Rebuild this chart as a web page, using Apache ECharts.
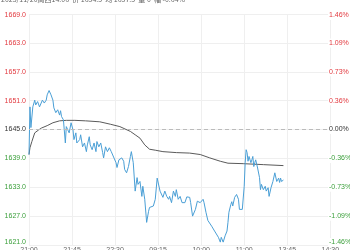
<!DOCTYPE html>
<html><head><meta charset="utf-8">
<script src="https://cdn.jsdelivr.net/npm/echarts@6/dist/echarts.min.js"></script>
<style>html,body{margin:0;padding:0;background:#fff}#c{width:350px;height:250px}</style>
</head><body><div id="c"></div>
<script>
const timeLabels = ['21:00','21:45','22:30','09:15','10:00','11:00','13:45','14:30','15:00'];
const preSettle = 1645;
const yMin = 1621, yMax = 1669, yStep = 6;
const totalMinutes = 345, labelStep = 45;
const headerText = '2025/11/20周四14:06  价 1634.5  均 1637.5  量 0  幅 -0.64%';

const priceMinutes = [0,1,2,4,6,7,9,11,12,14,16,18,19,21,23,25,26,28,30,32,33,34,36,38,39,42,44,46,47,49,50,53,54,56,58,60,61,63,64,66,68,70,71,73,75,77,78,80,82,84,86,88,91,92,94,97,99,100,102,104,106,107,109,111,113,114,116,118,119,121,123,125,126,128,130,132,134,135,137,139,140,142,144,146,147,149,151,153,154,156,158,160,161,163,165,168,169,171,174,176,178,179,182,183,185,187,189,191,193,194,196,198,200,201,203,205,207,208,209,211,212,213,215,217,219,220,221,223,225,226,227,228,229,230,232,233,234,235,236,237,239,240,241,242,243,245,247,248,250,251,253,255,256,257,259,261,262,263,264,266];
const priceValues = [1639.8,1649.7,1645.4,1649.7,1651.1,1650.1,1650.8,1649.7,1650.1,1651.1,1650.5,1651.1,1652.2,1653.1,1652.2,1651.1,1649.5,1648.5,1649.1,1648.0,1648.9,1647.7,1647.0,1642.2,1645.6,1644.3,1646.4,1644.9,1642.9,1644.3,1642.2,1642.9,1643.9,1641.4,1642.2,1640.4,1641.8,1643.5,1641.8,1640.8,1642.2,1640.4,1642.5,1641.4,1642.2,1640.2,1639.1,1641.4,1640.4,1641.2,1640.4,1640.4,1638.1,1637.1,1638.7,1639.1,1638.4,1636.7,1636.0,1637.3,1639.4,1640.4,1638.1,1632.2,1635.0,1633.6,1634.2,1631.1,1633.2,1630.5,1625.7,1628.0,1628.8,1628.4,1629.1,1630.5,1634.9,1634.6,1632.2,1631.9,1630.9,1632.2,1631.1,1630.5,1631.1,1629.8,1632.2,1631.1,1632.5,1630.5,1631.1,1629.8,1629.7,1629.8,1631.0,1630.9,1629.8,1627.0,1628.4,1630.1,1630.5,1629.8,1630.5,1629.8,1627.8,1626.1,1625.9,1624.9,1625.3,1623.9,1624.2,1622.6,1621.6,1622.6,1621.6,1622.9,1623.9,1625.7,1627.8,1629.4,1630.0,1629.1,1630.9,1631.5,1630.5,1628.4,1628.7,1628.4,1633.2,1638.1,1640.8,1640.2,1638.4,1639.4,1638.1,1638.7,1639.4,1637.3,1638.1,1638.7,1637.0,1636.7,1635.0,1632.5,1633.6,1632.5,1633.2,1632.2,1632.9,1631.1,1632.9,1634.2,1633.9,1636.0,1634.2,1634.9,1634.0,1634.9,1634.2,1634.5];

const avgMinutes = [0,1,3,6,10,13,19,25,32,39,48,59,74,85,95,106,111,116,121,126,132,140,154,168,179,189,200,208,224,245,266];
const avgValues = [1639.8,1641.2,1642.5,1644.3,1644.9,1645.3,1645.8,1646.4,1646.8,1646.9,1646.9,1646.8,1646.6,1646.1,1645.6,1644.6,1643.9,1643.2,1641.8,1640.9,1640.7,1640.4,1640.2,1640.1,1639.8,1639.1,1638.4,1638.0,1637.9,1637.7,1637.5];

const RED = '#e2393f', GREEN = '#3a9f3a', FLAT = '#333333';
function tone(v){ return v > preSettle ? RED : (v < preSettle ? GREEN : FLAT); }
// top / bottom labels are nudged inward, like the reference
function place(v, txt, tok){
  if (v >= yMax) return '{st| }\n{' + tok + '|' + txt + '}';
  if (v <= yMin) return '{' + tok + '|' + txt + '}\n{sb| }';
  return '{' + tok + '|' + txt + '}';
}
const spacers = { st: { lineHeight: 3, fontSize: 1 }, sb: { lineHeight: 5, fontSize: 1 } };

const chart = echarts.init(document.getElementById('c'), null, {renderer:'canvas'});
chart.setOption({
  animation: false,
  backgroundColor: '#fff',
  title: { text: headerText, left: 1, top: -4, padding: 0,
    textStyle: { fontSize: 7, fontWeight: 'normal', color: '#666', fontFamily: 'Noto Sans CJK SC, sans-serif' } },
  grid: { left: 29, top: 14, width: 330, height: 231, outerBoundsMode: 'none', containLabel: false },
  xAxis: {
    type: 'value', min: 0, max: totalMinutes, interval: labelStep,
    axisLine: { show: false }, axisTick: { show: false },
    splitLine: { show: true, lineStyle: { color: '#efefef', width: 1 } },
    axisLabel: { fontSize: 7, color: '#666', margin: 2, showMaxLabel: false,
      formatter: v => timeLabels[Math.round(v / labelStep)] || '' }
  },
  yAxis: [{
    type: 'value', min: yMin, max: yMax, interval: yStep,
    axisLine: { show: false }, axisTick: { show: false },
    splitLine: { lineStyle: { color: '#efefef', width: 1 } },
    axisLabel: { fontSize: 7, margin: 3, color: v => tone(v),
      formatter: v => place(v, v.toFixed(1), 'v'),
      rich: Object.assign({ v: { fontSize: 7 } }, spacers) }
  }, {
    type: 'value', min: yMin, max: yMax, interval: yStep, position: 'right', z: 5,
    axisLine: { show: false }, axisTick: { show: false }, splitLine: { show: false },
    axisLabel: { inside: true, align: 'left', margin: 31, fontSize: 7, color: v => tone(v),
      formatter: v => place(v, ((v - preSettle) / preSettle * 100).toFixed(2) + '%', 'p'),
      rich: Object.assign({ p: { fontSize: 7, backgroundColor: '#fff', padding: [1, 12, 1, 1] } }, spacers) }
  }],
  series: [{
    type: 'line', showSymbol: false, symbol: 'none',
    data: priceMinutes.map((m, i) => [m, priceValues[i]]),
    lineStyle: { color: '#4a9fd6', width: 1 }, z: 3
  }, {
    type: 'line', showSymbol: false, symbol: 'none',
    data: avgMinutes.map((m, i) => [m, avgValues[i]]),
    lineStyle: { color: '#5a5a5a', width: 1 }, z: 2,
    markLine: { silent: true, symbol: 'none', label: { show: false },
      lineStyle: { type: [4, 3], color: '#bbbbbb', width: 1 },
      data: [{ yAxis: preSettle }] }
  }]
});
</script></body></html>
